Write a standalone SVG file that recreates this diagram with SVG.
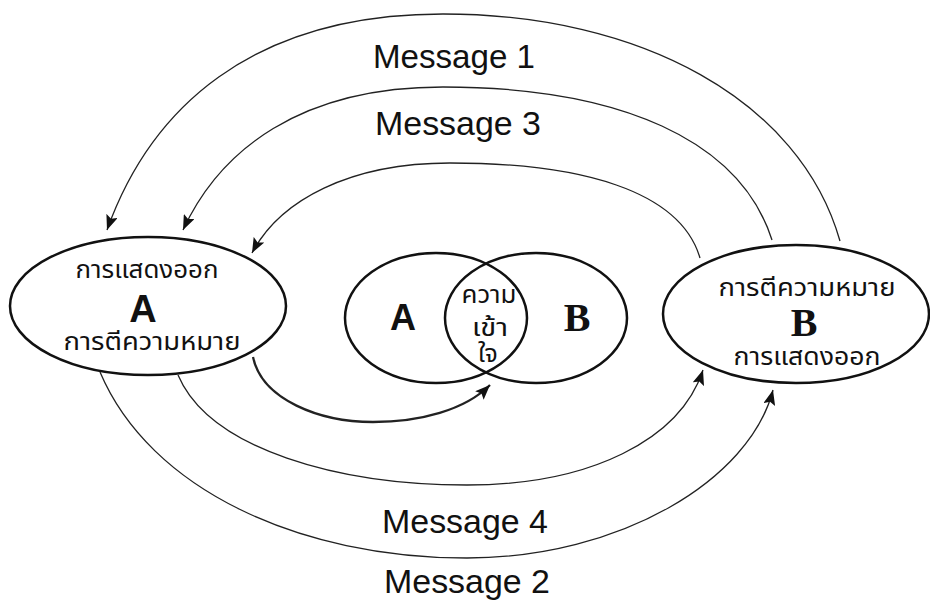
<svg xmlns="http://www.w3.org/2000/svg" width="930" height="601" viewBox="0 0 930 601">
<style>
.node{fill:none;stroke:#111;stroke-width:2.5}
.conn{fill:none;stroke:#222;stroke-width:1.3}
.thick{stroke-width:2.3}
.th{font-family:"Noto Sans Thai","Noto Sans","DejaVu Sans",sans-serif;font-size:25px;fill:#111;text-anchor:middle}
.msg{font-family:"Liberation Sans",Arial,sans-serif;font-size:33px;fill:#111;text-anchor:middle}
.bigA{font-family:"Liberation Sans",Arial,sans-serif;font-weight:bold;fill:#111;text-anchor:middle}
.bigB{font-family:"Liberation Serif","Times New Roman",serif;font-weight:bold;fill:#111;text-anchor:middle}
</style>
<defs>
<marker id="arr" markerUnits="userSpaceOnUse" markerWidth="16" markerHeight="12" refX="15" refY="6" orient="auto">
<path d="M0,0 L15,6 L0,12 L3,6 z" fill="#111"/>
</marker>
</defs>
<rect width="930" height="601" fill="#fff"/>

<g id="connectors">
<path class="conn" d="M840,241 C800,100 640,14 443,14 C250,14 150,110 107,230" marker-end="url(#arr)"/>
<path class="conn" d="M772,240 C740,140 620,87 443,87 C300,87 220,150 183,230" marker-end="url(#arr)"/>
<path class="conn" d="M700,258 C680,190 580,163 450,163 C350,163 280,200 252,253" marker-end="url(#arr)"/>
<path class="conn thick" d="M253,357 C262,400 320,422 373,422 C420,422 465,410 490,385" marker-end="url(#arr)"/>
<path class="conn" d="M178,375 C210,450 340,485 467,485 C590,485 680,440 703,370" marker-end="url(#arr)"/>
<path class="conn" d="M100,372 C150,490 300,558 467,558 C620,558 750,480 773,390" marker-end="url(#arr)"/>
</g>

<g id="labels">
<text class="msg" x="454" y="68" textLength="162" lengthAdjust="spacingAndGlyphs">Message 1</text>
<text class="msg" x="458" y="135" textLength="166" lengthAdjust="spacingAndGlyphs">Message 3</text>
<text class="msg" x="465" y="533" textLength="166" lengthAdjust="spacingAndGlyphs">Message 4</text>
<text class="msg" x="467" y="593" textLength="166" lengthAdjust="spacingAndGlyphs">Message 2</text>
</g>

<g id="node-A">
<ellipse class="node" cx="148" cy="306" rx="138" ry="69"/>
<text class="th" x="147" y="278" textLength="143" lengthAdjust="spacingAndGlyphs">การแสดงออก</text>
<text class="bigA" x="143" y="322" font-size="38">A</text>
<text class="th" x="152" y="350" textLength="177" lengthAdjust="spacingAndGlyphs">การตีความหมาย</text>
</g>

<g id="node-B">
<ellipse class="node" cx="796" cy="314" rx="133" ry="69"/>
<text class="th" x="807" y="296" textLength="177" lengthAdjust="spacingAndGlyphs">การตีความหมาย</text>
<text class="bigB" x="804" y="336" font-size="40">B</text>
<text class="th" x="807" y="365" textLength="147" lengthAdjust="spacingAndGlyphs">การแสดงออก</text>
</g>

<g id="venn">
<ellipse class="node" cx="436" cy="318" rx="91" ry="65"/>
<ellipse class="node" cx="536" cy="318" rx="91" ry="65"/>
<text class="bigA" x="403" y="330" font-size="36">A</text>
<text class="bigB" x="577" y="331" font-size="40">B</text>
<text class="th" x="489" y="303" font-size="21" textLength="55" lengthAdjust="spacingAndGlyphs">ความ</text>
<text class="th" x="490" y="336" font-size="21" textLength="36" lengthAdjust="spacingAndGlyphs">เข้า</text>
<text class="th" x="488" y="362" font-size="21">ใจ</text>
</g>
</svg>
